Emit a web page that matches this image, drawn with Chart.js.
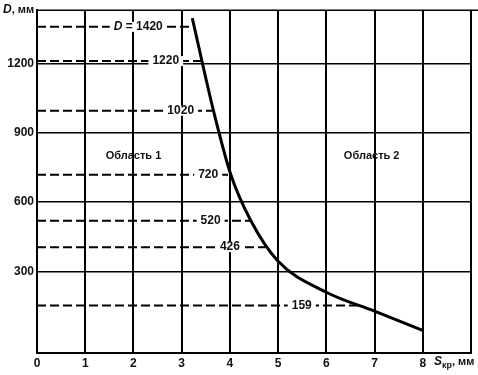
<!DOCTYPE html>
<html>
<head>
<meta charset="utf-8">
<script src="https://cdn.jsdelivr.net/npm/chart.js@4.4.0/dist/chart.umd.min.js"></script>
<style>
    body { margin: 0; background: #fff; }
    #holder { width: 478px; height: 375px; }
</style>
</head>
<body>
<div id="holder"><canvas id="myChart"></canvas></div>
<script>
// critical curve S_kr (mm) vs D (mm)
var curveS = [3.22, 3.66, 4.02, 4.43, 4.99, 6.00, 7.00, 8.01];
var curveD = [1396, 995, 718, 521, 346, 210, 128, 44];

// dashed pipe-diameter lines: level as drawn, where they meet the curve, label text and label position
var pipeLabels = ['1420', '1220', '1020', '720', '520', '426', '159'];
var pipeLevels = [1358, 1210, 995, 718, 519, 405, 153];
var pipeEnds   = [3.26, 3.40, 3.66, 4.02, 4.43, 4.74, 6.67];
var pipeLabelX = [2.1, 2.67, 2.98, 3.55, 3.6, 4.0, 5.49];

var xTicks = [0, 1, 2, 3, 4, 5, 6, 7, 8, 9];
var yTicks = [300, 600, 900, 1200];

var areaNames = ['Область 1', 'Область 2'];
var areaX = [2.0, 6.94];
var areaY = [800, 800];

var FONT = '"Liberation Sans", Arial, sans-serif';

function fontFor(p) {
    return (p[1] ? 'italic ' : '') + 'bold ' + (p[2] ? '9px ' : (p[3] || 12) + 'px ') + FONT;
}

function drawParts(ctx, parts, x, y, align) {
    // parts: [text, italic, sub, size]
    var total = 0;
    parts.forEach(function (p) {
        ctx.font = fontFor(p);
        total += ctx.measureText(p[0]).width;
    });
    var cx = align === 'center' ? x - total / 2 : x;
    ctx.textAlign = 'left';
    parts.forEach(function (p) {
        ctx.font = fontFor(p);
        ctx.fillText(p[0], cx, p[2] ? y + 4 : y);
        cx += ctx.measureText(p[0]).width;
    });
    return total;
}

var overlay = {
    id: 'overlay',
    afterDatasetsDraw: function (chart) {
        var ctx = chart.ctx, area = chart.chartArea;
        var xs = chart.scales.x, ys = chart.scales.y;
        ctx.save();
        ctx.strokeStyle = '#000';
        ctx.lineWidth = 1.5;
        ctx.beginPath();
        ctx.moveTo(area.left, area.top);
        ctx.lineTo(chart.width, area.top);
        ctx.stroke();

        ctx.textBaseline = 'middle';
        pipeLabels.forEach(function (t, i) {
            var parts = i === 0 ? [['D', true], [' = ' + t]] : [[t]];
            var px = xs.getPixelForValue(pipeLabelX[i]);
            var py = ys.getPixelForValue(pipeLevels[i]);
            var w = 0;
            parts.forEach(function (p) {
                ctx.font = fontFor(p);
                w += ctx.measureText(p[0]).width;
            });
            ctx.fillStyle = '#fff';
            ctx.fillRect(px - w / 2 - 4, py - 5, w + 8, 10);
            ctx.fillStyle = '#111';
            drawParts(ctx, parts, px, py, 'center');
        });

        areaNames.forEach(function (t, i) {
            ctx.fillStyle = '#111';
            drawParts(ctx, [[t, false, false, 11]], xs.getPixelForValue(areaX[i]), ys.getPixelForValue(areaY[i]), 'center');
        });

        // axis titles
        ctx.fillStyle = '#111';
        drawParts(ctx, [['D', true], [', мм', false, false, 11]], 3, 10, 'left');
        drawParts(ctx, [['S', true], ['кр', false, true], [', мм', false, false, 11]], 434, 362, 'left');
        ctx.restore();
    }
};

var datasets = [{
    data: curveS.map(function (s, i) { return { x: s, y: curveD[i] }; }),
    borderColor: '#000',
    borderWidth: 3,
    pointRadius: 0,
    cubicInterpolationMode: 'monotone',
    clip: false
}];
pipeLevels.forEach(function (lv, i) {
    datasets.push({
        data: [{ x: 0, y: lv }, { x: pipeEnds[i], y: lv }],
        borderColor: '#000',
        borderWidth: 2,
        borderDash: [9, 4],
        pointRadius: 0,
        clip: false
    });
});

var config = {
    type: 'line',
    data: { datasets: datasets },
    options: {
        responsive: true,
        maintainAspectRatio: false,
        animation: false,
        layout: { padding: { top: 6, right: 7, left: 0, bottom: 0 } },
        plugins: { legend: { display: false }, tooltip: { enabled: false } },
        scales: {
            x: {
                type: 'linear',
                min: 0,
                max: 9,
                afterBuildTicks: function (s) { s.ticks = xTicks.map(function (v) { return { value: v }; }); },
                afterFit: function (s) { s.height = 22; },
                grid: { color: '#000', lineWidth: 2, drawTicks: false },
                border: { color: '#000', width: 2 },
                ticks: {
                    padding: 3,
                    color: '#111',
                    font: { family: FONT, size: 12, weight: 'bold' },
                    callback: function (v) { return v === 9 ? '' : String(v); }
                }
            },
            y: {
                type: 'linear',
                min: -53,
                max: 1430,
                afterBuildTicks: function (s) { s.ticks = yTicks.map(function (v) { return { value: v }; }); },
                afterFit: function (s) { s.width = 37; },
                grid: { color: '#000', lineWidth: 1.5, drawTicks: false },
                border: { color: '#000', width: 2 },
                ticks: {
                    padding: 3,
                    color: '#111',
                    font: { family: FONT, size: 12, weight: 'bold' },
                    callback: function (v) { return String(v); }
                }
            }
        }
    },
    plugins: [overlay]
};

new Chart(document.getElementById('myChart').getContext('2d'), config);
</script>
</body>
</html>
